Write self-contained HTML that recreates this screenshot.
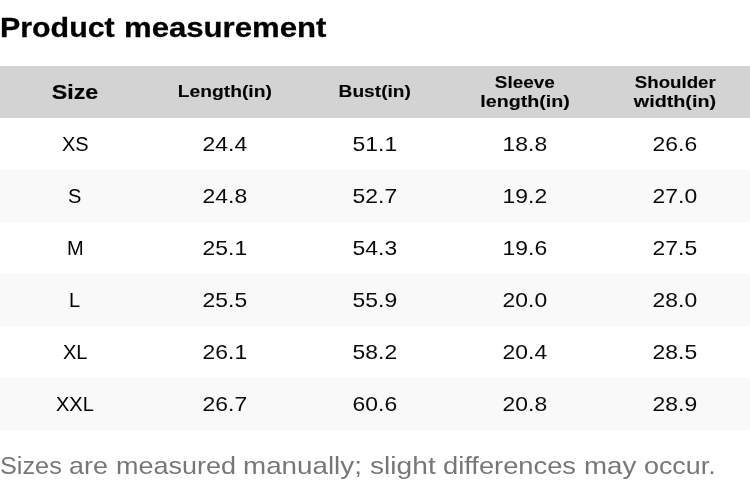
<!DOCTYPE html>
<html lang="en">
<head>
<meta charset="utf-8">
<title>Product measurement</title>
<style>
html, body { margin: 0; padding: 0; background: #fff; }
body {
  position: relative; width: 750px; height: 502px; overflow: hidden;
  font-family: "Liberation Sans", sans-serif; color: #000;
}
/* every text run is an inline-block so it can be stretched horizontally */
.t { display: inline-block; white-space: nowrap; transform-origin: 50% 50%; will-change: transform; }
/* words of the title / footnote: placed one by one, stretched from their left edge */
.w { position: absolute; top: 0; display: block; white-space: nowrap; transform-origin: 0 50%; will-change: transform; }

h2 {
  margin: 0; position: absolute; left: 0; top: 13px; width: 750px; height: 30px;
  font-size: 27px; line-height: 30px; font-weight: bold; white-space: nowrap;
  -webkit-text-stroke: 0.3px #000;
}

table {
  position: absolute; left: 0; top: 66px; width: 750px;
  border-collapse: collapse; table-layout: fixed;
}
th, td {
  width: 150px; height: 52px; padding: 0;
  text-align: center; vertical-align: middle;
  font-size: 20.4px; font-weight: normal;
}
th {
  background: #d3d3d3; font-weight: bold; font-size: 16.3px; line-height: 19px;
  -webkit-text-stroke: 0.1px #000;
}
th.s { font-size: 20px; -webkit-text-stroke: 0.2px #000; }
th.s .t { transform: scaleX(1.161); }
th.u .t { position: relative; top: -1px; }
.k1 { transform: scaleX(1.185); }  /* Length(in) */
.k2 { transform: scaleX(1.175); }  /* Bust(in)   */
.k3 { transform: scaleX(1.162); }  /* Sleeve     */
.k4 { transform: scaleX(1.208); }  /* length(in) */
.k5 { transform: scaleX(1.147); }  /* Shoulder   */
.k6 { transform: scaleX(1.213); }  /* width(in)  */
tr:nth-child(odd) td { background: #f9f9f9; }
td .t { transform: scaleX(1.1216); color: #0a0a0a; }
td:first-child { font-size: 20px; }
td:first-child .t { transform: none; color: #000; }

p {
  margin: 0; position: absolute; left: 0; top: 452px; width: 750px; height: 28px;
  font-size: 24.4px; line-height: 28px; color: #777; white-space: nowrap;
}
</style>
</head>
<body>
<h2>
  <span class="w" style="left:0.00px;transform:scaleX(1.1245)">Product</span>
  <span class="w" style="left:123.75px;transform:scaleX(1.1526)">measurement</span>
</h2>
<table>
<tr><th class="s"><span class="t">Size</span></th><th class="u"><span class="t k1">Length(in)</span></th><th class="u"><span class="t k2">Bust(in)</span></th><th><span class="t k3">Sleeve</span><br><span class="t k4">length(in)</span></th><th><span class="t k5">Shoulder</span><br><span class="t k6">width(in)</span></th></tr>
<tr><td><span class="t">XS</span></td><td><span class="t">24.4</span></td><td><span class="t">51.1</span></td><td><span class="t">18.8</span></td><td><span class="t">26.6</span></td></tr>
<tr><td><span class="t">S</span></td><td><span class="t">24.8</span></td><td><span class="t">52.7</span></td><td><span class="t">19.2</span></td><td><span class="t">27.0</span></td></tr>
<tr><td><span class="t">M</span></td><td><span class="t">25.1</span></td><td><span class="t">54.3</span></td><td><span class="t">19.6</span></td><td><span class="t">27.5</span></td></tr>
<tr><td><span class="t">L</span></td><td><span class="t">25.5</span></td><td><span class="t">55.9</span></td><td><span class="t">20.0</span></td><td><span class="t">28.0</span></td></tr>
<tr><td><span class="t">XL</span></td><td><span class="t">26.1</span></td><td><span class="t">58.2</span></td><td><span class="t">20.4</span></td><td><span class="t">28.5</span></td></tr>
<tr><td><span class="t">XXL</span></td><td><span class="t">26.7</span></td><td><span class="t">60.6</span></td><td><span class="t">20.8</span></td><td><span class="t">28.9</span></td></tr>
</table>
<p>
  <span class="w" style="left:0.00px;transform:scaleX(1.0357)">Sizes</span>
  <span class="w" style="left:69.40px;transform:scaleX(1.1010)">are</span>
  <span class="w" style="left:115.84px;transform:scaleX(1.1055)">measured</span>
  <span class="w" style="left:243.38px;transform:scaleX(1.1385)">manually;</span>
  <span class="w" style="left:369.84px;transform:scaleX(1.1538)">slight</span>
  <span class="w" style="left:443.17px;transform:scaleX(1.1188)">differences</span>
  <span class="w" style="left:583.78px;transform:scaleX(1.1348)">may</span>
  <span class="w" style="left:643.70px;transform:scaleX(1.1000)">occur.</span>
</p>
</body>
</html>
